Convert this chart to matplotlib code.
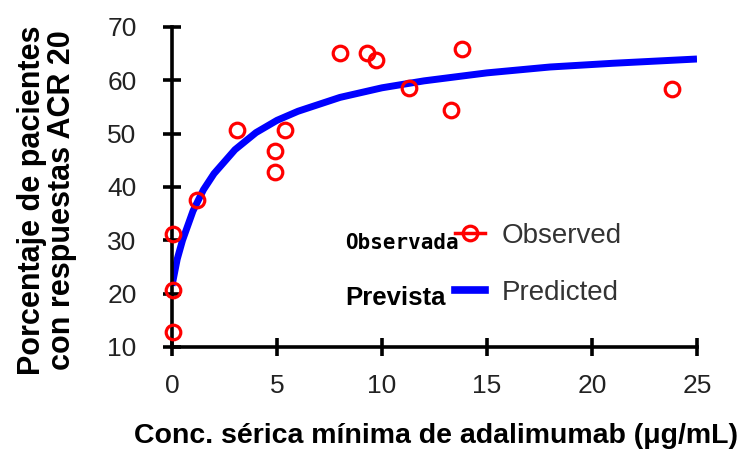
import matplotlib
matplotlib.use("Agg")
import matplotlib.pyplot as plt
from matplotlib.lines import Line2D

obs_x = [0.05, 0.05, 0.05, 1.2, 3.1, 4.9, 4.9, 5.4, 8.0, 9.3, 9.7, 11.3, 13.3, 13.8, 23.8]
obs_y = [12.9, 20.6, 31.2, 37.6, 50.6, 46.8, 42.8, 50.6, 65.1, 65.2, 63.8, 58.6, 54.4, 65.8, 58.3]

# Predicted curve
pred_x = [0, 0.25, 0.5, 1, 1.5, 2, 3, 4, 5, 6, 8, 10, 12, 15, 18, 21, 25]
pred_y = [21.5, 26.5, 30.0, 35.5, 39.5, 42.5, 47.0, 50.2, 52.5, 54.2, 56.8, 58.6, 59.9, 61.4, 62.5, 63.2, 64.0]

x_ticks = [0, 5, 10, 15, 20, 25]
y_ticks = [10, 20, 30, 40, 50, 60, 70]

fig = plt.figure(figsize=(7.51, 4.54), dpi=100)
ax = fig.add_axes([172/751, 1-347/454, (697-172)/751, (347-27)/454])
ax.set_xlim(0, 25)
ax.set_ylim(10, 70)

ax.plot(pred_x, pred_y, color="#0000FF", lw=5, solid_capstyle="butt", zorder=2)
ax.plot(obs_x, obs_y, ls="none", marker="o", ms=10.5, mfc="none", mec="#FF0000", mew=2.3,
        zorder=3, clip_on=False)

for s in ["top", "right"]:
    ax.spines[s].set_visible(False)
for s in ["left", "bottom"]:
    ax.spines[s].set_linewidth(2.6)
ax.set_xticks(x_ticks)
ax.set_yticks(y_ticks)
ax.tick_params(direction="inout", length=13, width=2.6, labelsize=19,
               labelcolor="#222222", labelfontfamily="Liberation Sans")
ax.tick_params(axis="y", pad=19)
ax.tick_params(axis="x", pad=13)

ax.set_xlabel("Conc. sérica mínima de adalimumab (μg/mL)", fontsize=20.5,
              fontweight="bold", family="Liberation Sans", va="top")
ax.xaxis.set_label_coords(0.503, -0.2375)
fig.text(0.062, 0.56, "Porcentaje de pacientes\ncon respuestas ACR 20", rotation=90,
         fontsize=22, fontweight="bold", family="Liberation Sans",
         ha="center", va="center", linespacing=1.0)

handles = [Line2D([], [], color="#FF0000", lw=2.5, marker="o", ms=10.5, mfc="none", mec="#FF0000", mew=2.3),
           Line2D([], [], color="#0000FF", lw=5.5)]
leg = ax.legend(handles, ["Observed", "Predicted"], frameon=False, loc="upper left",
                bbox_to_anchor=((455-172)/525, (347-223)/320),
                handlelength=1.08, handletextpad=0.61, labelspacing=1.1,
                prop={"family": "Liberation Sans", "size": 20}, borderpad=0, borderaxespad=0)
for t in leg.get_texts():
    t.set_color("#333333")

fig.text(345/751, 1-243/454, "Observada", fontsize=15, fontweight="bold",
         family="DejaVu Sans Mono", va="center", ha="left")
fig.text(345/751, 1-298/454, "Prevista", fontsize=18.5, fontweight="bold",
         family="Liberation Sans", va="center", ha="left")

fig.savefig("out.png", dpi=100)
